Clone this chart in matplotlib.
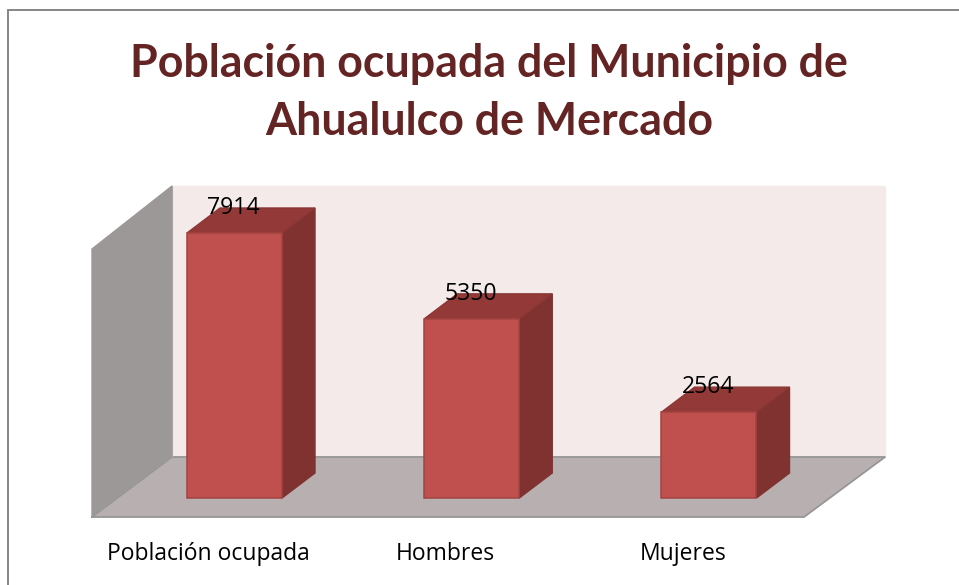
import matplotlib
matplotlib.use('Agg')
import matplotlib.pyplot as plt
from matplotlib.patches import Polygon
from matplotlib.transforms import Affine2D

# data
categories = ['Población ocupada', 'Hombres', 'Mujeres']
values = [7914, 5350, 2564]
title = 'Población ocupada del Municipio de\nAhualulco de Mercado'

W, H = 959, 585

fig = plt.figure(figsize=(W / 100, H / 100), dpi=100, facecolor='white')
ax = fig.add_axes([0, 0, 1, 1])
ax.axis('off')

# scale: category 0 sits at x=234.5px, step 237.25px; value 0 at y=498px
x_step = 237.25
y_unit = 265 / 7914
ax.set_xlim(-234.5 / x_step, (W - 234.5) / x_step)
ax.set_ylim(-(H - 498) / y_unit, 498 / y_unit)

# chart frame and walls are drawn in picture pixels (y down)
px = Affine2D().scale(1, -1).translate(0, H)


def wall(points, color, edge=None, z=1):
    ax.add_patch(Polygon(points, closed=True, facecolor=color, edgecolor=edge or color,
                         lw=1, transform=px, zorder=z))


ax.plot([8, 8, W], [H, 10, 10], color='#868686', lw=1.4, transform=px, zorder=1, solid_joinstyle='miter')
wall([(172, 186), (885, 186), (885, 457), (172, 457)], '#F5EAEA')
wall([(92, 249), (172, 186), (172, 457), (92, 517)], '#9C9897')
wall([(92, 517), (172, 457), (885, 457), (804, 517)], '#B8B0B0', z=2)
ax.plot([92, 172, 885, 804, 92], [517, 457, 457, 517, 517], color='#969696', lw=1.2, transform=px, zorder=2)
ax.plot([172, 172], [186, 457], color='#A8A4A4', lw=0.8, transform=px, zorder=2)

# bars with oblique depth
half = 47.5 / x_step
dx = 33 / x_step
dy = 25 / y_unit
for i, (cat, v) in enumerate(zip(categories, values)):
    l, r = i - half, i + half
    ax.add_patch(Polygon([(r, 0), (r + dx, dy), (r + dx, v + dy), (r, v)], facecolor='#7F3230',
                         edgecolor='#7F3230', lw=1, zorder=3))
    ax.add_patch(Polygon([(l, v), (r, v), (r + dx, v + dy), (l + dx, v + dy)], facecolor='#933A38',
                         edgecolor='#8A3735', lw=1, zorder=3))
    ax.add_patch(Polygon([(l, 0), (r, 0), (r, v), (l, v)], facecolor='#C0504D',
                         edgecolor='#A34441', lw=1.1, zorder=4))
    ax.annotate(str(v), xy=(i, v), xytext=(-1, 25), textcoords='offset pixels', ha='center', va='center',
                fontsize=16.6, family='Open Sans', color='black', zorder=5)
    ax.annotate(cat, xy=(i, 0), xytext=(-26, -56), textcoords='offset pixels', ha='center', va='center',
                fontsize=16.5, family='Open Sans', color='black', zorder=5)

fig.text(489 / W, 1 - 93 / H, title, ha='center', va='center', fontsize=32.2, fontweight='bold',
         family='Lato', color='#632423', linespacing=1.48)

fig.savefig('out.png', dpi=100)
